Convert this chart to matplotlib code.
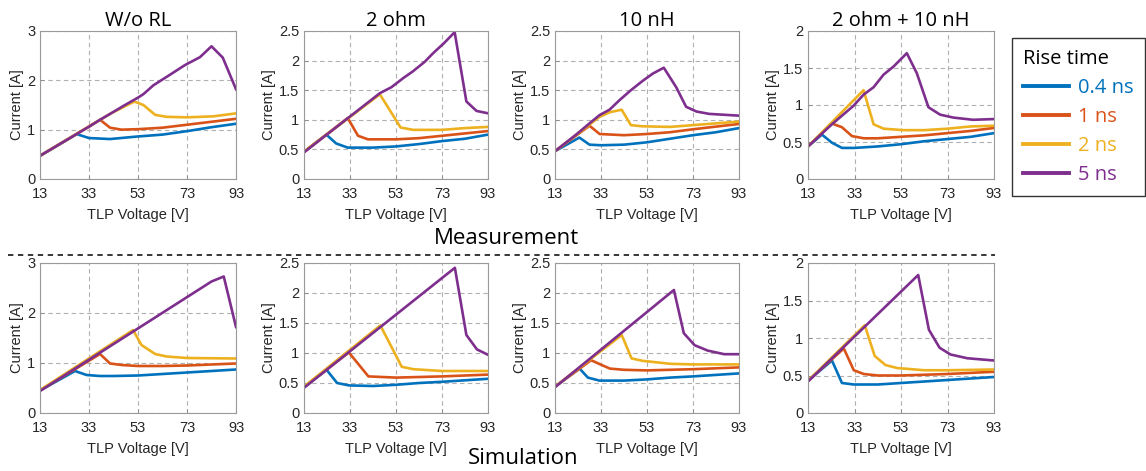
import matplotlib
matplotlib.use("Agg")
import matplotlib.pyplot as plt
from matplotlib.lines import Line2D

# rise times and their colours (MATLAB default order)
rise_times = ["0.4 ns", "1 ns", "2 ns", "5 ns"]
colors = ["#0072BD", "#D95319", "#EDB120", "#7E2F8E"]

titles = ["W/o RL", "2 ohm", "10 nH", "2 ohm + 10 nH"]
y_tops = [3, 2.5, 2.5, 2]
x_ticks = [13, 33, 53, 73, 93]

# ---- measurement row: (x, y) per rise time ----
meas_worl = {
    "0.4 ns": ([13, 28, 33, 41.6, 52.5, 63, 73, 83, 93],
               [0.47, 0.91, 0.83, 0.81, 0.86, 0.9, 0.97, 1.05, 1.12]),
    "1 ns": ([13, 37.5, 41.6, 46.3, 53, 63, 73, 83, 93],
             [0.47, 1.2, 1.04, 1.0, 1.01, 1.04, 1.1, 1.16, 1.22]),
    "2 ns": ([13, 42, 51.5, 55.2, 60, 64.7, 73, 83.7, 93],
             [0.47, 1.33, 1.57, 1.5, 1.3, 1.26, 1.25, 1.27, 1.33]),
    "5 ns": ([13, 33, 37.5, 41.6, 47, 53, 55.2, 59.3, 65, 72.2, 78.3, 83, 87.6, 93],
             [0.47, 1.06, 1.2, 1.32, 1.48, 1.65, 1.72, 1.9, 2.08, 2.31, 2.47, 2.69, 2.46, 1.82]),
}
meas_2ohm = {
    "0.4 ns": ([13, 22.7, 27, 32, 43, 53, 63, 73, 83, 93],
               [0.46, 0.75, 0.6, 0.53, 0.53, 0.55, 0.59, 0.64, 0.68, 0.75]),
    "1 ns": ([13, 32, 36.5, 40.8, 53, 63, 73, 83, 93],
             [0.46, 1.03, 0.73, 0.67, 0.67, 0.69, 0.73, 0.77, 0.81]),
    "2 ns": ([13, 46, 55, 60.4, 73, 83, 93],
             [0.46, 1.43, 0.87, 0.83, 0.83, 0.86, 0.88]),
    "5 ns": ([13, 46, 51, 56, 60.4, 65.5, 69, 74, 78.5, 83.6, 88, 93],
             [0.45, 1.45, 1.55, 1.70, 1.82, 1.98, 2.12, 2.30, 2.48, 1.31, 1.15, 1.11]),
}
meas_10nh = {
    "0.4 ns": ([13, 23.6, 28, 33, 43, 53, 63, 73, 83, 93],
               [0.47, 0.7, 0.58, 0.57, 0.58, 0.62, 0.68, 0.74, 0.79, 0.86]),
    "1 ns": ([13, 28, 32.4, 43, 53, 63, 73, 93],
             [0.47, 0.9, 0.76, 0.74, 0.76, 0.79, 0.84, 0.93]),
    "2 ns": ([13, 32.4, 37, 42, 46, 51, 63, 73, 93],
             [0.47, 1.05, 1.13, 1.17, 0.91, 0.89, 0.88, 0.91, 0.97]),
    "5 ns": ([13, 22.2, 28, 32.4, 36.7, 41, 46, 51.2, 55.5, 60.3, 65.7, 70, 74.5, 80, 93],
             [0.47, 0.75, 0.94, 1.08, 1.17, 1.33, 1.5, 1.66, 1.78, 1.88, 1.55, 1.22, 1.14, 1.1, 1.07]),
}
meas_both = {
    "0.4 ns": ([13, 19, 23.3, 27.6, 33, 43, 53, 63, 73, 83, 93],
               [0.44, 0.6, 0.49, 0.42, 0.42, 0.44, 0.47, 0.51, 0.54, 0.57, 0.62]),
    "1 ns": ([13, 23.3, 27.6, 31.9, 37, 43, 53, 63, 73, 83, 93],
             [0.44, 0.75, 0.7, 0.58, 0.55, 0.55, 0.57, 0.59, 0.62, 0.65, 0.69]),
    "2 ns": ([13, 36.9, 41.2, 45.5, 54, 63, 73, 83, 93],
             [0.44, 1.2, 0.74, 0.68, 0.66, 0.66, 0.68, 0.71, 0.72]),
    "5 ns": ([13, 23.3, 32.6, 36.9, 41.2, 45.5, 49.8, 55.5, 59.8, 64.8, 69.8, 75.5, 84, 93],
             [0.44, 0.74, 0.99, 1.14, 1.24, 1.41, 1.52, 1.70, 1.43, 0.97, 0.87, 0.83, 0.80, 0.81]),
}

# ---- simulation row ----
sim_worl = {
    "0.4 ns": ([13, 27.3, 32, 37.5, 43, 53, 63, 73, 83, 93],
               [0.45, 0.84, 0.76, 0.74, 0.74, 0.75, 0.78, 0.81, 0.84, 0.87]),
    "1 ns": ([13, 37.5, 41.6, 46.3, 53, 63, 73, 83, 93],
             [0.45, 1.18, 0.99, 0.96, 0.94, 0.94, 0.95, 0.97, 0.99]),
    "2 ns": ([13, 51, 54.4, 60, 64.7, 73, 93],
             [0.46, 1.66, 1.36, 1.18, 1.13, 1.1, 1.09]),
    "5 ns": ([13, 83, 88, 93],
             [0.44, 2.63, 2.73, 1.72]),
}
sim_2ohm = {
    "0.4 ns": ([13, 22.8, 27.4, 32.5, 43, 53, 63, 73, 93],
               [0.43, 0.72, 0.5, 0.46, 0.45, 0.47, 0.5, 0.52, 0.57]),
    "1 ns": ([13, 32.5, 41, 53, 63, 73, 93],
             [0.43, 1.01, 0.61, 0.59, 0.6, 0.61, 0.64]),
    "2 ns": ([13, 46.2, 55.5, 60.5, 73, 93],
             [0.44, 1.46, 0.77, 0.73, 0.7, 0.7]),
    "5 ns": ([13, 78.6, 83.6, 88.2, 93],
             [0.42, 2.42, 1.3, 1.06, 0.97]),
}
sim_10nh = {
    "0.4 ns": ([13, 23.7, 27.3, 32.3, 43, 53, 63, 73, 93],
               [0.44, 0.74, 0.59, 0.54, 0.54, 0.56, 0.59, 0.61, 0.66]),
    "1 ns": ([13, 28.7, 33.3, 36.9, 43, 53, 63, 73, 93],
             [0.44, 0.88, 0.8, 0.74, 0.72, 0.71, 0.72, 0.73, 0.76]),
    "2 ns": ([13, 42, 46.3, 51, 63, 73, 93],
             [0.44, 1.3, 0.91, 0.87, 0.82, 0.81, 0.81]),
    "5 ns": ([13, 64.7, 69, 73.7, 79.4, 86.6, 93],
             [0.43, 2.05, 1.33, 1.13, 1.04, 0.98, 0.98]),
}
sim_both = {
    "0.4 ns": ([13, 23.3, 27.6, 32.7, 43, 53, 63, 73, 93],
               [0.43, 0.7, 0.4, 0.38, 0.38, 0.4, 0.42, 0.44, 0.48]),
    "1 ns": ([13, 28.4, 32.7, 37, 43, 53, 63, 73, 93],
             [0.43, 0.86, 0.57, 0.52, 0.5, 0.5, 0.51, 0.52, 0.55]),
    "2 ns": ([13, 37.4, 41.7, 46.3, 51.3, 63, 73, 93],
             [0.43, 1.17, 0.76, 0.64, 0.6, 0.57, 0.57, 0.58]),
    "5 ns": ([13, 60.4, 65, 69.6, 74.3, 81.5, 93],
             [0.42, 1.84, 1.11, 0.87, 0.78, 0.73, 0.7]),
}

meas_panels = [meas_worl, meas_2ohm, meas_10nh, meas_both]
sim_panels = [sim_worl, sim_2ohm, sim_10nh, sim_both]

W, H = 1146, 471
fig = plt.figure(figsize=(W / 100, H / 100), dpi=100)

tick_font = "Liberation Sans"
title_font = "Open Sans"

# axes boxes in pixels: left, width
lefts = [40, 304, 555, 808]
widths = [196, 184, 184, 186]
rows = [(31, 179), (263, 413)]  # top, bottom in pixels


def fmt(v):
    return ("%g" % v)


def draw_panel(ax, data, ytop):
    for rt, c in zip(rise_times, colors):
        xs, ys = data[rt]
        ax.plot(xs, ys, color=c, lw=1.9, solid_joinstyle="round")
    ax.set_xlim(13, 93)
    ax.set_ylim(0, ytop)
    ax.set_xticks(x_ticks)
    step = 1 if ytop == 3 else 0.5
    yt = [i * step for i in range(int(round(ytop / step)) + 1)]
    ax.set_yticks(yt)
    ax.set_yticklabels([fmt(v) for v in yt])
    ax.grid(True, ls=(0, (4, 3)), color="#b0b0b0", lw=0.8)
    ax.tick_params(direction="in", length=3, width=0.6, colors="#888888",
                   labelcolor="#262626", labelsize=10.5)
    ax.tick_params(axis="x", pad=5.5)
    ax.tick_params(axis="y", pad=3.5)
    for lab in ax.get_xticklabels() + ax.get_yticklabels():
        lab.set_fontfamily(tick_font)
    for s in ax.spines.values():
        s.set_color("#9a9a9a")
        s.set_linewidth(0.8)
    ax.set_xlabel("TLP Voltage [V]", fontsize=10.5, family=tick_font,
                  color="#262626", labelpad=5)
    ax.set_ylabel("Current [A]", fontsize=10.5, family=tick_font,
                  color="#262626", labelpad=2)


for r, panels in enumerate([meas_panels, sim_panels]):
    top, bot = rows[r]
    for i in range(4):
        ax = fig.add_axes([lefts[i] / W, 1 - bot / H, widths[i] / W, (bot - top) / H])
        draw_panel(ax, panels[i], y_tops[i])
        if r == 0:
            ax.set_title(titles[i], fontsize=14.5, family=title_font, pad=3)

fig.text(506 / W, 1 - 238 / H, "Measurement", ha="center", va="center",
         fontsize=16, family=title_font)
fig.text(523 / W, 1 - 458 / H, "Simulation", ha="center", va="center",
         fontsize=16, family=title_font)

# dashed separator between the two rows
fig.add_artist(Line2D([8 / W, 995 / W], [1 - 255 / H, 1 - 255 / H],
                      color="black", lw=1.1, ls=(0, (3.5, 3))))

handles = [Line2D([], [], color=c, lw=2.8) for c in colors]
leg = fig.legend(handles, rise_times, loc="upper left",
                 bbox_to_anchor=(1012 / W, 1 - 38 / H), borderaxespad=0,
                 title="Rise time", alignment="left", frameon=True,
                 fancybox=False, edgecolor="black", labelcolor="linecolor",
                 prop={"family": title_font, "size": 14.5},
                 title_fontproperties={"family": title_font, "size": 14.5},
                 handlelength=2.3, handletextpad=0.45, labelspacing=0.45,
                 borderpad=0.55)
leg.get_frame().set_linewidth(1.0)

fig.savefig("out.png", dpi=100)
